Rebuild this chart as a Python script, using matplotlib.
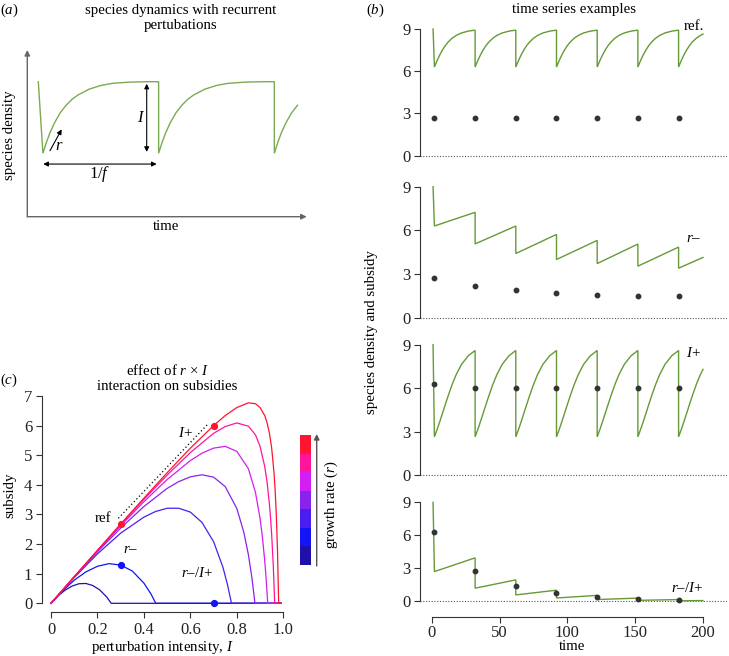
import matplotlib
matplotlib.use('Agg')
import matplotlib.pyplot as plt
from matplotlib.colors import ListedColormap
import numpy as np

plt.rcParams['font.family'] = ['Liberation Serif', 'DejaVu Serif']
plt.rcParams['mathtext.fontset'] = 'custom'
plt.rcParams['mathtext.rm'] = 'Liberation Serif'
plt.rcParams['mathtext.it'] = 'Liberation Serif:italic'
plt.rcParams['mathtext.bf'] = 'Liberation Serif:bold'

# ---------------- data ----------------
# (a) schematic: one recovery cycle (period units, density relative to max)
a_cycle_dx = [0, 0.03, 0.06, 0.1, 0.15, 0.2, 0.25, 0.3, 0.4, 0.5, 0.6, 0.75, 0.9, 1.0]
a_cycle_y = [0.47, 0.55, 0.62, 0.695, 0.77, 0.825, 0.868, 0.9, 0.945, 0.972, 0.988, 0.997, 1.0, 1.0]
a_drops = [0.135, 1.135, 2.135]
a_last_len = 0.2

# (b) time series
t_drops = [2, 32, 62, 92, 122, 152, 182]
t_first, y_first = 1, 9.0
t_last = 200
seg_offsets = [0, 2, 4, 6, 8, 10, 13, 16, 20, 25, 30]
ref_cycle = [6.3, 6.76, 7.17, 7.52, 7.82, 8.06, 8.34, 8.54, 8.72, 8.85, 8.92]
ref_last = 8.64
iplus_cycle = [2.65, 3.16, 3.71, 4.29, 4.87, 5.44, 6.24, 6.93, 7.65, 8.24, 8.6]
iplus_last = 7.3
rminus_start = [6.3, 5.07, 4.41, 4.0, 3.72, 3.54, 3.40]
rminus_end = [7.24, 6.3, 5.72, 5.31, 5.06, 4.85, 4.14]
ri_start = [2.7, 1.19, 0.58, 0.30, 0.16, 0.087, 0.047]
ri_end = [3.95, 1.95, 1.01, 0.54, 0.29, 0.157, 0.067]
ref_sub = [2.7, 2.68, 2.68, 2.68, 2.68, 2.68, 2.68]
rminus_sub = [2.7, 2.17, 1.89, 1.72, 1.59, 1.52, 1.46]
iplus_sub = [6.3, 6.02, 6.02, 6.02, 6.02, 6.02, 6.02]
ri_sub = [6.3, 2.77, 1.37, 0.71, 0.38, 0.20, 0.11]
b_labels = ['ref.', '$r$–', '$I$+', '$r$–/$I$+']

# (c) subsidy vs perturbation intensity for 7 growth rates
I_c = [
    [0, 0.03, 0.06, 0.09, 0.12, 0.15, 0.18, 0.21, 0.24, 0.259, 0.99],
    [0, 0.05, 0.1, 0.15, 0.2, 0.25, 0.3, 0.35, 0.4, 0.43, 0.451, 0.99],
    [0, 0.1, 0.2, 0.3, 0.4, 0.45, 0.5, 0.55, 0.6, 0.65, 0.7, 0.74, 0.76, 0.777, 0.99],
    [0, 0.1, 0.2, 0.3, 0.4, 0.5, 0.55, 0.6, 0.65, 0.7, 0.75, 0.8, 0.83, 0.85, 0.865, 0.878, 0.99],
    [0, 0.1, 0.2, 0.3, 0.4, 0.5, 0.6, 0.65, 0.7, 0.75, 0.8, 0.85, 0.88, 0.9, 0.91, 0.92, 0.925, 0.933, 0.99],
    [0, 0.1, 0.2, 0.3, 0.4, 0.5, 0.6, 0.7, 0.75, 0.8, 0.85, 0.88, 0.9, 0.92, 0.93, 0.94, 0.945, 0.95, 0.957, 0.963, 0.99],
    [0, 0.1, 0.2, 0.3, 0.4, 0.5, 0.6, 0.7, 0.75, 0.8, 0.85, 0.88, 0.9, 0.92, 0.93, 0.94, 0.95, 0.96, 0.965, 0.97, 0.975, 0.98, 0.99],
]
S_c = [
    [0, 0.25, 0.44, 0.58, 0.66, 0.67, 0.60, 0.45, 0.21, 0, 0],
    [0, 0.42, 0.78, 1.06, 1.25, 1.34, 1.29, 1.09, 0.68, 0.32, 0, 0],
    [0, 0.87, 1.67, 2.37, 2.91, 3.10, 3.21, 3.21, 3.08, 2.73, 2.08, 1.22, 0.62, 0, 0],
    [0, 0.89, 1.74, 2.54, 3.27, 3.88, 4.11, 4.27, 4.34, 4.26, 3.94, 3.20, 2.40, 1.63, 0.85, 0, 0],
    [0, 0.89, 1.77, 2.62, 3.43, 4.18, 4.82, 5.07, 5.24, 5.30, 5.13, 4.54, 3.75, 2.87, 2.24, 1.44, 0.95, 0, 0],
    [0, 0.90, 1.78, 2.66, 3.51, 4.33, 5.09, 5.74, 5.97, 6.09, 5.98, 5.69, 5.30, 4.62, 4.10, 3.37, 2.89, 2.31, 1.25, 0, 0],
    [0, 0.90, 1.79, 2.68, 3.55, 4.41, 5.24, 6.00, 6.34, 6.61, 6.77, 6.74, 6.61, 6.34, 6.10, 5.76, 5.24, 4.41, 3.80, 2.97, 1.79, 0, 0],
]
c_colors = ['#1e10a8', '#1414f5', '#4a1ef0', '#8a22ee', '#d21ef2', '#ff149c', '#ff1432']
c_pts_I = [0.3, 0.7, 0.3, 0.7]
c_pts_S = [2.68, 6.0, 1.29, 0.0]
c_pts_col = ['#ff1432', '#ff1432', '#1414f5', '#1414f5']
c_dotted_I = [0.29, 0.675]
c_dotted_S = [2.87, 6.05]

GREEN = '#659a36'
DOT = '#333333'
SPINE = '#333333'
FS = 10.7
TFS = 12

W, H = 729, 656
fig = plt.figure(figsize=(W / 100, H / 100), dpi=100)


def add_axes_px(left, right, top, bottom, xmap, ymap):
    ax = fig.add_axes([left / W, 1 - bottom / H, (right - left) / W, (bottom - top) / H])
    px0, v0, px1, v1 = xmap
    sx = (v1 - v0) / (px1 - px0)
    ax.set_xlim(v0 + (left - px0) * sx, v0 + (right - px0) * sx)
    py0, w0, py1, w1 = ymap
    sy = (w1 - w0) / (py1 - py0)
    ax.set_ylim(w0 + (bottom - py0) * sy, w0 + (top - py0) * sy)
    ax.patch.set_alpha(0)
    return ax


overlay = fig.add_axes([0, 0, 1, 1])
overlay.set_xlim(0, W)
overlay.set_ylim(H, 0)
overlay.axis('off')


def ftext(x, y, s, **kw):
    kw.setdefault('fontsize', FS)
    kw.setdefault('ha', 'center')
    kw.setdefault('va', 'center')
    overlay.text(x, y, s, **kw)


# ---------------- panel (a) ----------------
axa = add_axes_px(20, 315, 40, 222, (27.3, 0, 143.0, 1.0), (216.7, 0, 81.7, 1.0))
axa.axis('off')
ta, ya = [0.095], [1.0]
for k, d in enumerate(a_drops):
    for dx, yy in zip(a_cycle_dx, a_cycle_y):
        if k == len(a_drops) - 1 and dx > a_last_len + 1e-9:
            break
        ta.append(d + dx)
        ya.append(yy)
axa.plot(ta, ya, color='#7aab52', lw=1.0, solid_joinstyle='miter', clip_on=False)
arr_ax = dict(arrowstyle='-|>', color='#666666', lw=1.0, mutation_scale=8, shrinkA=0, shrinkB=0)
axa.annotate('', xy=(0, 1.235), xytext=(0, 0), arrowprops=arr_ax, annotation_clip=False)
axa.annotate('', xy=(2.415, 0), xytext=(0, 0), arrowprops=arr_ax, annotation_clip=False)
arr_d = dict(arrowstyle='<|-|>', color='black', lw=0.8, mutation_scale=7, shrinkA=0, shrinkB=0)
axa.annotate('', xy=(1.032, 0.985), xytext=(1.032, 0.48), arrowprops=arr_d)
axa.annotate('', xy=(0.138, 0.39), xytext=(1.118, 0.39), arrowprops=arr_d)
axa.annotate('', xy=(0.297, 0.647), xytext=(0.196, 0.489),
             arrowprops=dict(arrowstyle='-|>', color='black', lw=0.8, mutation_scale=7, shrinkA=0, shrinkB=0))
axa.text(0.985, 0.73, '$I$', fontsize=TFS, ha='center', va='center')
axa.text(0.629, 0.32, '1/$f$', fontsize=TFS, ha='center', va='center')
axa.text(0.272, 0.52, '$r$', fontsize=TFS, ha='center', va='center')

ftext(9, 10, '($a$)')
ftext(181, 18, 'species dynamics with recurrent\npertubations', linespacing=1.2)
ftext(10, 135, 'species density', rotation=90)
ftext(166, 226, 'time')

# ---------------- panel (b) ----------------
b_top_px = [(29.0, 155.7), (186.7, 317.7), (344.7, 475.3), (502.3, 601.3)]


def build_cycle_series(cycle, last_val):
    t, y = [t_first], [y_first]
    for k, d in enumerate(t_drops):
        for off, v in zip(seg_offsets, cycle):
            if d + off > t_last:
                break
            t.append(d + off)
            y.append(v)
        if k == len(t_drops) - 1:
            t.append(t_last)
            y.append(last_val)
    return t, y


def build_linear_series(starts, ends):
    t, y = [t_first], [y_first]
    for k, d in enumerate(t_drops):
        nxt = t_drops[k + 1] if k + 1 < len(t_drops) else t_last
        t += [d, nxt]
        y += [starts[k], ends[k]]
    return t, y


series = [build_cycle_series(ref_cycle, ref_last),
          build_linear_series(rminus_start, rminus_end),
          build_cycle_series(iplus_cycle, iplus_last),
          build_linear_series(ri_start, ri_end)]
subs = [ref_sub, rminus_sub, iplus_sub, ri_sub]
label_pos = [(193, 9.15), (193, 5.45), (193, 8.45), (188, 1.2)]

for i, (p9, p0) in enumerate(b_top_px):
    bottom = 616.7 if i == 3 else p0 + 4
    ax = add_axes_px(420, 727, p9 - 4, bottom, (431.7, 0, 703.0, 200), (p0, 0, p9, 9))
    t, y = series[i]
    ax.plot(t, y, color=GREEN, lw=1.0, zorder=3, solid_joinstyle='miter')
    ax.plot(t_drops, subs[i], 'o', color=DOT, ms=3.2, zorder=4)
    ax.axhline(0, color='#555555', lw=0.8, ls=(0, (1, 1.5)), zorder=1)
    for s in ['top', 'right']:
        ax.spines[s].set_visible(False)
    ax.spines['left'].set_bounds(0, 9)
    ax.spines['left'].set_color(SPINE)
    ax.spines['left'].set_linewidth(0.8)
    ax.set_yticks([0, 3, 6, 9])
    ax.tick_params(axis='y', direction='out', length=4, width=0.8, colors=SPINE,
                   labelsize=TFS, labelcolor='#222222', pad=3)
    if i < 3:
        ax.spines['bottom'].set_visible(False)
        ax.set_xticks([])
    else:
        ax.spines['bottom'].set_bounds(0, 200)
        ax.spines['bottom'].set_color(SPINE)
        ax.spines['bottom'].set_linewidth(0.8)
        ax.set_xticks([0, 50, 100, 150, 200])
        ax.tick_params(axis='x', direction='out', length=4, width=0.8, colors=SPINE,
                       labelsize=TFS, labelcolor='#222222', pad=2)
    ax.text(label_pos[i][0], label_pos[i][1], b_labels[i], fontsize=FS, ha='center', va='center')

ftext(375, 10, '($b$)')
ftext(574, 10, 'time series examples')
ftext(372, 332, 'species density and subsidy', rotation=90)
ftext(572, 647, 'time')

# ---------------- panel (c) ----------------
axc = add_axes_px(42, 292, 390, 612.3, (51, 0, 283.3, 1.0), (603.3, 0, 396, 7))
for Ii, Si, col in zip(I_c, S_c, c_colors):
    axc.plot(Ii, Si, color=col, lw=0.9, clip_on=False)
axc.plot(c_dotted_I, c_dotted_S, color='black', lw=0.9, ls=(0, (1, 2)))
for xi, yi, ci in zip(c_pts_I, c_pts_S, c_pts_col):
    axc.plot(xi, yi, 'o', color=ci, ms=4.2, zorder=5, clip_on=False)
for s in ['top', 'right']:
    axc.spines[s].set_visible(False)
axc.spines['left'].set_bounds(0, 7)
axc.spines['bottom'].set_bounds(0, 1)
for s in ['left', 'bottom']:
    axc.spines[s].set_color(SPINE)
    axc.spines[s].set_linewidth(0.8)
axc.set_yticks(range(0, 8))
axc.set_xticks([0, 0.2, 0.4, 0.6, 0.8, 1.0])
axc.set_xticklabels(['0', '0.2', '0.4', '0.6', '0.8', '1.0'])
axc.tick_params(direction='out', length=4, width=0.8, colors=SPINE, labelsize=TFS,
                labelcolor='#222222', pad=3)
axc.text(0.225, 2.85, 'ref', fontsize=FS, ha='center', va='center')
axc.text(0.578, 5.75, '$I$+', fontsize=FS, ha='center', va='center')
axc.text(0.345, 1.8, '$r$–', fontsize=FS, ha='center', va='center')
axc.text(0.63, 1.02, '$r$–/$I$+', fontsize=FS, ha='center', va='center')

# colour key
axcb = add_axes_px(300, 310.7, 435, 565, (300, 0, 310.7, 1), (565, 0, 435, 7))
axcb.imshow(np.arange(len(c_colors)).reshape(-1, 1), cmap=ListedColormap(c_colors),
            origin='lower', aspect='auto', extent=(0, 1, 0, 7), interpolation='nearest')
axcb.set_xlim(0, 1)
axcb.set_ylim(0, 7)
axcb.axis('off')
overlay.annotate('', xy=(316.7, 434), xytext=(316.7, 566),
                 arrowprops=dict(arrowstyle='-|>', color='#555555', lw=1.0, mutation_scale=8,
                                 shrinkA=0, shrinkB=0))
ftext(331, 505, 'growth rate ($r$)', rotation=90)

ftext(9, 380, '($c$)')
ftext(167, 378, 'effect of $r$ × $I$\ninteraction on subsidies', linespacing=1.2)
ftext(10, 495, 'subsidy', rotation=90)
ftext(162, 648, 'perturbation intensity, $I$')

fig.savefig('out.png', dpi=100)
